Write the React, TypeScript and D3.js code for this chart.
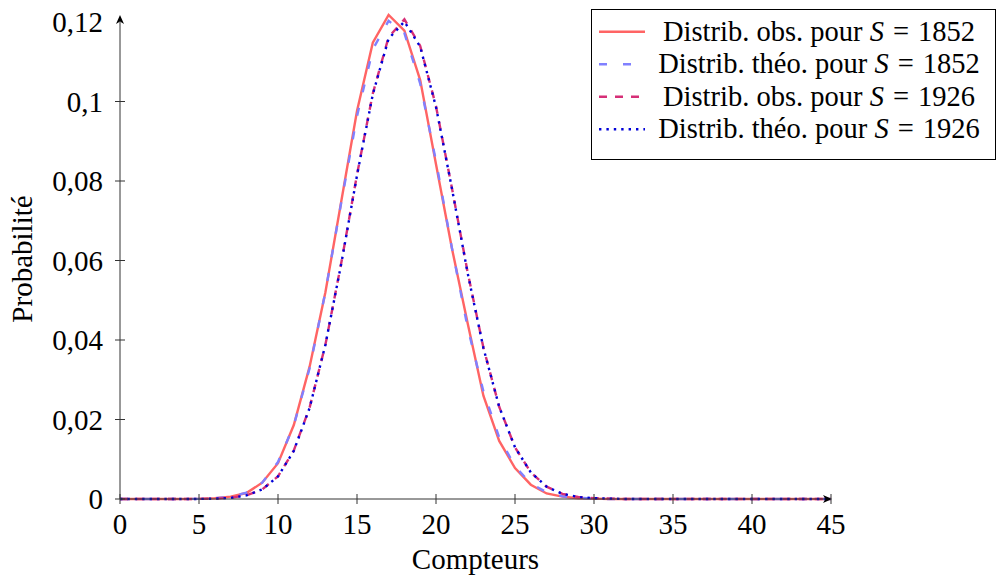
import React from "react";
import * as d3 from "d3";

const counts = [0,1,2,3,4,5,6,7,8,9,10,11,12,13,14,15,16,17,18,19,20,21,22,23,24,25,26,27,28,29,30,31,32,33,34,35,36,37,38,39,40,41,42,43,44,45];

const obs1852 = [0,0,0,0,0,0.00003,0.0002,0.0006,0.0015,0.0041,0.0090,0.0186,0.0333,0.0520,0.0748,0.0976,0.1148,0.1218,0.1178,0.1054,0.0842,0.0632,0.0443,0.0260,0.0146,0.0078,0.0036,0.0014,0.0006,0.0002,0.0001,0,0,0,0,0,0,0,0,0,0,0,0,0,0,0];
const theo1852 = [0,0,0,0,0,0.00004,0.00016,0.00054,0.0016,0.0041,0.0093,0.0185,0.0329,0.0521,0.0745,0.0963,0.1131,0.1203,0.1172,0.1045,0.0850,0.0633,0.0432,0.0271,0.0155,0.0082,0.0039,0.0017,0.0007,0.0003,0.0001,0,0,0,0,0,0,0,0,0,0,0,0,0,0,0];
const obs1926 = [0,0,0,0,0,0.00002,0.00008,0.0003,0.0009,0.0024,0.0057,0.0122,0.0230,0.0388,0.0593,0.0816,0.1020,0.1162,0.1207,0.1140,0.0988,0.0784,0.0571,0.0381,0.0232,0.0130,0.0067,0.0031,0.0013,0.0005,0.0002,0.0001,0,0,0,0,0,0,0,0,0,0,0,0,0,0];
const theo1926 = [0,0,0,0,0,0.00002,0.00007,0.00028,0.0009,0.0024,0.0057,0.0121,0.0229,0.0388,0.0591,0.0814,0.1018,0.1158,0.1201,0.1138,0.0986,0.0783,0.0569,0.0380,0.0232,0.0130,0.0067,0.0031,0.0013,0.0005,0.0002,0.0001,0,0,0,0,0,0,0,0,0,0,0,0,0,0];

const xTicks = [0,5,10,15,20,25,30,35,40,45];
const yTicks = [0,0.02,0.04,0.06,0.08,0.1,0.12];
const yTickLabels = ["0","0,02","0,04","0,06","0,08","0,1","0,12"];

const legendLabels = [
  { text: "Distrib. obs. pour ", year: "1852" },
  { text: "Distrib. théo. pour ", year: "1852" },
  { text: "Distrib. obs. pour ", year: "1926" },
  { text: "Distrib. théo. pour ", year: "1926" },
];

const LW = 2.4;
const styles = [
  { color: "#ff6464", dash: undefined as string | undefined },
  { color: "#8080ff", dash: "8 16" },
  { color: "#d62f77", dash: "8 8" },
  { color: "#0000d8", dash: `${LW} 5` },
];

export default function App() {
  const W = 997, H = 578;
  const x = d3.scaleLinear().domain([0, 45]).range([120, 831]);
  const y = d3.scaleLinear().domain([0, 0.12]).range([499, 22]);
  const series = [obs1852, theo1852, obs1926, theo1926];
  const line = d3.line<number>().x((_, i) => x(counts[i])).y((d) => y(d));
  const font = "'Liberation Serif', 'Times New Roman', serif";
  const fs = 29;
  const lfs = 28.5;
  const axisColor = "#333";

  return (
    <svg width={W} height={H} style={{ position: "absolute", left: 0, top: 0, background: "#fff" }} fontFamily={font}>
      <rect x={0} y={0} width={W} height={H} fill="#fff" />
      {series.map((s, k) => (
        <path key={k} d={line(s) || ""} fill="none" stroke={styles[k].color} strokeWidth={LW}
          strokeDasharray={styles[k].dash} strokeLinejoin="miter" />
      ))}
      {/* axes */}
      <line x1={x(0)} y1={y(0)} x2={x(45) - 6} y2={y(0)} stroke={axisColor} strokeWidth={1} />
      <line x1={x(0)} y1={y(0)} x2={x(0)} y2={16 + 6} stroke={axisColor} strokeWidth={1} />
      <path d={`M${x(45) + 1},${y(0)} L${x(45) - 8},${y(0) - 4} L${x(45) - 5.5},${y(0)} L${x(45) - 8},${y(0) + 4} Z`} fill="#000" />
      <path d={`M${x(0)},15 L${x(0) - 4},24 L${x(0)},21.5 L${x(0) + 4},24 Z`} fill="#000" />
      {xTicks.map((t) => (
        <g key={"xt" + t}>
          <line x1={x(t)} x2={x(t)} y1={y(0) - 5} y2={y(0) + 5} stroke={axisColor} strokeWidth={1} />
          <text x={x(t)} y={534} textAnchor="middle" fontSize={fs} fill="#000">{t}</text>
        </g>
      ))}
      {yTicks.map((t, i) => (
        <g key={"yt" + i}>
          {t < 0.12 && <line x1={x(0) - 5} x2={x(0) + 5} y1={y(t)} y2={y(t)} stroke={axisColor} strokeWidth={1} />}
          <text x={103} y={y(t) + 10} textAnchor="end" fontSize={fs} fill="#000">{yTickLabels[i]}</text>
        </g>
      ))}
      <text x={(x(0) + x(45)) / 2} y={569} textAnchor="middle" fontSize={fs} fill="#000">Compteurs</text>
      <text transform={`translate(32,259) rotate(-90)`} textAnchor="middle" fontSize={fs} fill="#000">Probabilité</text>
      {/* legend */}
      <rect x={591.5} y={9.5} width={404} height={150} fill="#fff" stroke="#000" strokeWidth={1} />
      {legendLabels.map((l, k) => {
        const cy = 31.7 + k * 32.5;
        return (
          <g key={"lg" + k}>
            <line x1={599} x2={645} y1={cy} y2={cy} stroke={styles[k].color} strokeWidth={LW} strokeDasharray={styles[k].dash} />
            <text x={819} y={cy + 9} textAnchor="middle" fontSize={lfs} fill="#000">
              {l.text}
              <tspan fontStyle="italic">S</tspan>
              <tspan dx={9}>=</tspan>
              <tspan dx={9}>{l.year}</tspan>
            </text>
          </g>
        );
      })}
    </svg>
  );
}
